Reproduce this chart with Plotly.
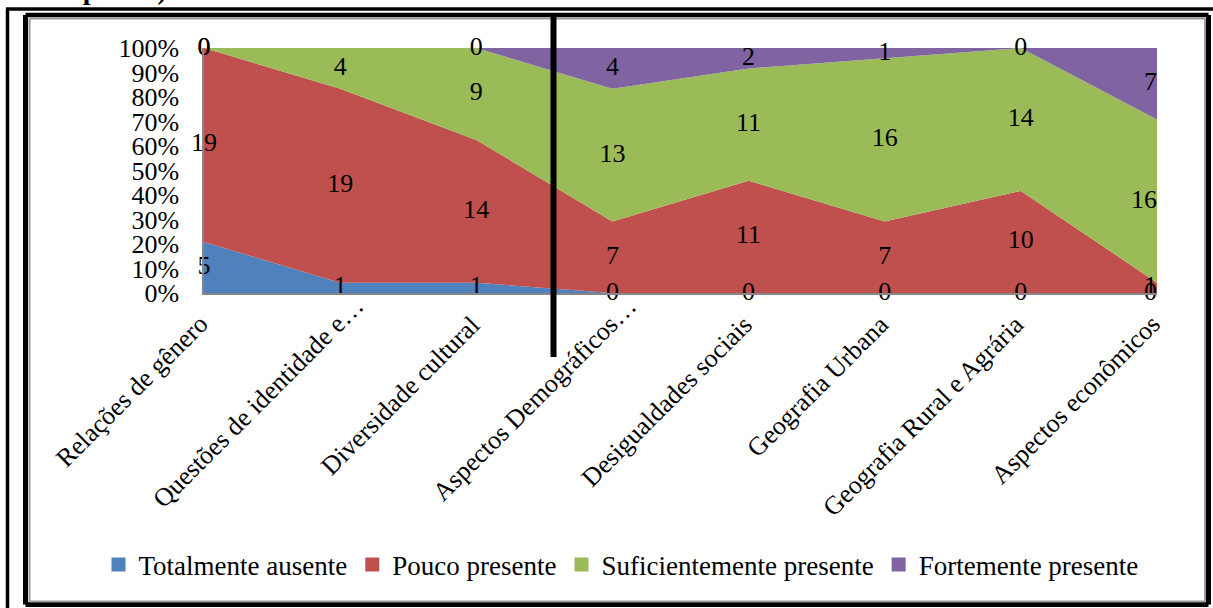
import plotly.graph_objects as go

# Categorias (eixo X) e contagens de cada nível de presença
categorias = [
    "Relações de gênero",
    "Questões de identidade e…",
    "Diversidade cultural",
    "Aspectos Demográficos…",
    "Desigualdades sociais",
    "Geografia Urbana",
    "Geografia Rural e Agrária",
    "Aspectos econômicos",
]
totalmente_ausente = [5, 1, 1, 0, 0, 0, 0, 0]
pouco_presente = [19, 19, 14, 7, 11, 7, 10, 1]
suficientemente_presente = [0, 4, 9, 13, 11, 16, 14, 16]
fortemente_presente = [0, 0, 0, 4, 2, 1, 0, 7]
marcas_y = list(range(0, 101, 10))
rotulos_y = [f"{v}%" for v in marcas_y]

nomes = ["Totalmente ausente", "Pouco presente", "Suficientemente presente", "Fortemente presente"]
cores = ["#4F81BD", "#C0504D", "#9BBB59", "#8064A2"]
series = [totalmente_ausente, pouco_presente, suficientemente_presente, fortemente_presente]

FONTE = "Liberation Serif, Times New Roman, serif"
W, H = 1213, 608
# área de plotagem em pixels (esquerda, direita, topo, base)
PX0, PX1, PY0, PY1 = 204, 1157, 48, 293


def fx(px):
    return px / W


def fy(py):
    return 1 - py / H


x = list(range(len(categorias)))
fig = go.Figure()

# Áreas empilhadas a 100%
for i, (nome, vals, cor) in enumerate(zip(nomes, series, cores)):
    fig.add_trace(go.Scatter(
        x=x, y=vals, name=nome, stackgroup="um",
        groupnorm="percent" if i == 0 else None,
        mode="none", fillcolor=cor, line=dict(width=0),
        showlegend=False, hoverinfo="skip",
    ))

# Rótulos de dados no centro de cada faixa
totais = [sum(s[k] for s in series) for k in x]
posicoes = ["middle center"] * (len(x) - 1) + ["middle left"]
base = [0.0] * len(x)
for vals in series:
    pct = [100.0 * v / t for v, t in zip(vals, totais)]
    meio = [b + p / 2 for b, p in zip(base, pct)]
    fig.add_trace(go.Scatter(
        x=x, y=meio, mode="text", text=[str(v) for v in vals],
        textposition=posicoes,
        textfont=dict(family=FONTE, size=26, color="#000000"),
        cliponaxis=False, showlegend=False, hoverinfo="skip",
    ))
    base = [b + p for b, p in zip(base, pct)]

# Entradas da legenda com marcadores quadrados
for nome, cor in zip(nomes, cores):
    fig.add_trace(go.Scatter(
        x=[None], y=[None], mode="markers", name=nome,
        marker=dict(symbol="square", size=14, color=cor),
    ))

shapes = []


def linha(x0, y0, x1, y1, cor="#000000", w=4):
    shapes.append(dict(type="line", xref="paper", yref="paper",
                       x0=fx(x0), y0=fy(y0), x1=fx(x1), y1=fy(y1),
                       line=dict(color=cor, width=w), layer="above"))


# Moldura externa
linha(7.5, 9, 7.5, 620, w=3.5)
linha(6, 9, 1215, 9, w=3.5)
# Moldura interna (preta com filete cinza)
linha(25.5, 15, 1208.5, 15, w=4.5)
linha(25.5, 15, 25.5, 604.5, w=5)
linha(1208.5, 15, 1208.5, 604.5, w=5)
linha(25.5, 604.5, 1208.5, 604.5, w=5)
linha(29.5, 18.5, 29.5, 601.5, cor="#9a9a9a", w=2)
linha(29.5, 18.5, 1205, 18.5, cor="#9a9a9a", w=2)
linha(1205, 18.5, 1205, 601.5, cor="#9a9a9a", w=2)
linha(29.5, 601.5, 1205, 601.5, cor="#9a9a9a", w=2)
# Barra vertical preta sobre o gráfico
linha(553.5, 15, 553.5, 357, w=6)

# Rótulos das categorias, inclinados a 45°; os truncados com "…"
# ficam deslocados ao longo da diagonal
anotacoes = []
for i, cat in enumerate(categorias):
    truncado = cat.endswith("…")
    anotacoes.append(dict(
        text=cat, xref="x", yref="paper", x=i, y=fy(PY1 + 14),
        xanchor="right", yanchor="top", textangle=-45, showarrow=False,
        xshift=12 + (20 if truncado else 0), yshift=18 if truncado else 0,
        font=dict(family=FONTE, size=26, color="#000000"),
    ))
anotacoes.append(dict(
    text="<b>das respostas)</b>", xref="paper", yref="paper",
    x=fx(-2), y=fy(-10), xanchor="left", yanchor="middle",
    showarrow=False, font=dict(family=FONTE, size=28, color="#000000"),
))

fig.update_layout(
    width=W, height=H,
    margin=dict(l=0, r=0, t=0, b=0),
    paper_bgcolor="#ffffff", plot_bgcolor="#ffffff",
    font=dict(family=FONTE, size=26, color="#000000"),
    showlegend=True,
    legend=dict(orientation="h", x=fx(621), xanchor="center",
                y=fy(565), yanchor="middle",
                font=dict(family=FONTE, size=27, color="#000000"),
                itemwidth=30, bgcolor="rgba(0,0,0,0)", traceorder="normal"),
    shapes=shapes,
    annotations=anotacoes,
)

fig.update_xaxes(
    domain=[fx(PX0), fx(PX1)], automargin=False,
    range=[0, len(categorias) - 1], tickvals=x, showticklabels=False,
    showgrid=False, zeroline=False, showline=True, linecolor="#868686",
    linewidth=1.5, ticks="",
)
fig.update_yaxes(
    domain=[fy(PY1), fy(PY0)], automargin=False,
    range=[0, 100], tickvals=marcas_y, ticktext=rotulos_y,
    tickfont=dict(family=FONTE, size=26), showgrid=False, zeroline=False,
    showline=True, linecolor="#868686", linewidth=1.5, ticks="",
    ticklabelstandoff=18,
)

fig.write_html("out.html")
